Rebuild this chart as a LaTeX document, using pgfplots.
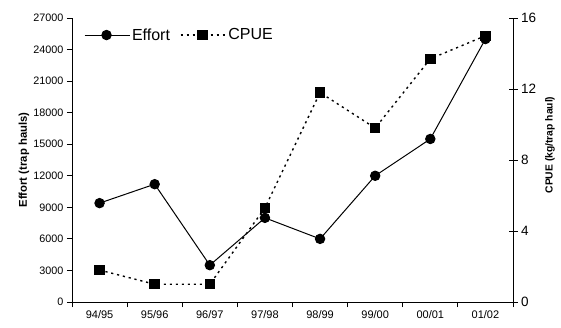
\documentclass[border=0pt]{standalone}
\usepackage{pgfplots}
\pgfplotsset{compat=1.18}
\usepackage{fontspec}
\setmainfont{Liberation Sans}
\begin{document}
\begin{tikzpicture}
\path[use as bounding box] (-72pt,-25pt) rectangle (489pt,302pt);
\begin{axis}[
 scale only axis, width=441pt, height=284pt,
 xmin=0, xmax=8, ymin=0, ymax=27000,
 clip=false,
 axis x line*=bottom, axis y line*=left,
 axis line style={line width=0.8pt, -},
 xtick={0.5,1.5,...,7.5},
 xticklabels={94/95,95/96,96/97,97/98,98/99,99/00,00/01,01/02},
 major x tick style={draw=none},
 minor xtick={0,1,...,8},
 ytick={0,3000,...,27000},
 tick align=outside,
 major tick length=5pt, minor tick length=5pt,
 tick style={black, line width=0.8pt},
 scaled y ticks=false,
 /pgf/number format/1000 sep={},
 /pgf/number format/assume math mode=true,
 xticklabel style={font=\fontsize{11}{13}\selectfont},
 yticklabel style={font=\fontsize{10.8}{13}\selectfont},
 ylabel={Effort (trap hauls)},
 every axis y label/.style={at={(axis description cs:-0.109,0.5)}, anchor=center, rotate=90, font=\bfseries\fontsize{11.3}{13}\selectfont},
 legend style={at={(axis description cs:0.02,0.94)}, anchor=west, draw=none, fill=none, legend columns=2, font=\fontsize{16}{18}\selectfont, /tikz/every even column/.append style={column sep=8pt}},
 legend image code/.code={\draw[mark repeat=2,mark phase=2,#1] plot coordinates {(0pt,0pt) (22pt,0pt) (45pt,0pt)};},
]
\addplot[black, line width=1pt, mark=*, mark size=4.7pt] coordinates {
 (0.5,9400) (1.5,11200) (2.5,3500) (3.5,8000) (4.5,6000) (5.5,12000) (6.5,15500) (7.5,25000)};
\addlegendentry{Effort}
\addlegendimage{black, line width=1.4pt, dash pattern=on 2.2pt off 3.8pt, mark=square*, mark size=4.5pt, mark options={solid}}
\addlegendentry{CPUE}
\end{axis}
\begin{axis}[
 scale only axis, width=441pt, height=284pt,
 xmin=0, xmax=8, ymin=0, ymax=16,
 clip=false,
 axis y line*=right, axis x line=none,
 axis line style={line width=0.8pt, -},
 ytick={0,4,...,16},
 tick align=center,
 major tick length=9pt,
 tick style={black, line width=0.8pt},
 /pgf/number format/assume math mode=true,
 yticklabel style={font=\fontsize{13.5}{15}\selectfont},
 ylabel={CPUE (kg/trap haul)},
 every axis y label/.style={at={(axis description cs:1.084,0.553)}, anchor=center, rotate=90, font=\bfseries\fontsize{10.3}{12}\selectfont},
]
\addplot[black, line width=1.4pt, dash pattern=on 2.2pt off 3.8pt, mark=square*, mark size=4.5pt, mark options={solid}] coordinates {
 (0.5,1.8) (1.5,1.0) (2.5,1.0) (3.5,5.3) (4.5,11.8) (5.5,9.8) (6.5,13.7) (7.5,15.0)};
\end{axis}
\end{tikzpicture}
\end{document}
